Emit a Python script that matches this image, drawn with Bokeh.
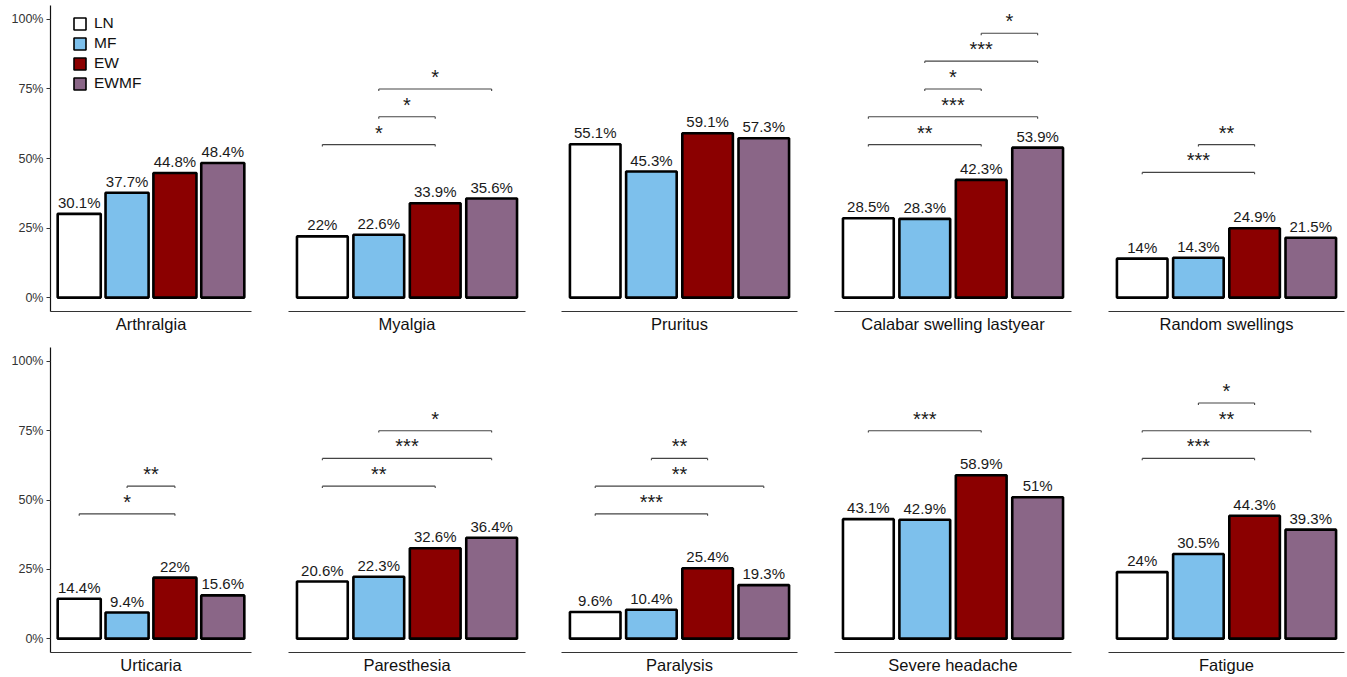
from bokeh.plotting import figure
from bokeh.layouts import row, column
from bokeh.models import (Range1d, ColumnDataSource, FixedTicker, PrintfTickFormatter,
                          Legend, LegendItem)
from bokeh.core.properties import value
from bokeh.embed import file_html
from bokeh.resources import INLINE

# ---------------- data ----------------
groups = ["LN", "MF", "EW", "EWMF"]
symptoms = ["Arthralgia", "Myalgia", "Pruritus", "Calabar swelling lastyear", "Random swellings",
            "Urticaria", "Paresthesia", "Paralysis", "Severe headache", "Fatigue"]
ln_vals = [30.1, 22, 55.1, 28.5, 14, 14.4, 20.6, 9.6, 43.1, 24]
mf_vals = [37.7, 22.6, 45.3, 28.3, 14.3, 9.4, 22.3, 10.4, 42.9, 30.5]
ew_vals = [44.8, 33.9, 59.1, 42.3, 24.9, 22, 32.6, 25.4, 58.9, 44.3]
ewmf_vals = [48.4, 35.6, 57.3, 53.9, 21.5, 15.6, 36.4, 19.3, 51, 39.3]

y_ticks = [0, 25, 50, 75, 100]

# significance brackets
sig_symptom = (["Myalgia"] * 3 + ["Calabar swelling lastyear"] * 5 + ["Random swellings"] * 2 +
               ["Urticaria"] * 2 + ["Paresthesia"] * 3 + ["Paralysis"] * 3 +
               ["Severe headache"] + ["Fatigue"] * 3)
sig_from = ["LN", "MF", "MF",
            "LN", "LN", "MF", "MF", "EW",
            "LN", "MF",
            "LN", "MF",
            "LN", "LN", "MF",
            "LN", "LN", "MF",
            "LN",
            "LN", "LN", "MF"]
sig_to = ["EW", "EW", "EWMF",
          "EW", "EWMF", "EW", "EWMF", "EWMF",
          "EW", "EW",
          "EW", "EW",
          "EW", "EWMF", "EWMF",
          "EW", "EWMF", "EW",
          "EW",
          "EW", "EWMF", "EW"]
sig_height = [55, 65, 75,
              55, 65, 75, 85, 95,
              45, 55,
              45, 55,
              55, 65, 75,
              45, 55, 65,
              75,
              65, 75, 85]
sig_label = ["*", "*", "*",
             "**", "***", "*", "***", "*",
             "***", "**",
             "*", "**",
             "**", "***", "*",
             "***", "**", "**",
             "***",
             "***", "**", "*"]

# ---------------- style ----------------
colors = ["#FFFFFF", "#7DC0EC", "#8B0000", "#8A6687"]
FONT = value("Liberation Sans")
gx = {g: i + 1 for i, g in enumerate(groups)}

col_widths = [270, 273, 273, 274, 256]
col_left = [50, 18, 18, 18, 18]
col_right = [19, 18, 19, 19, 2]
row_heights = [342, 334]
row_top = [5, 5]
row_bottom = [31, 23]


def make_panel(k):
    r, c = divmod(k, 5)
    name = symptoms[k]
    vals = [ln_vals[k], mf_vals[k], ew_vals[k], ewmf_vals[k]]
    p = figure(width=col_widths[c], height=row_heights[r],
               x_range=Range1d(0.4, 4.6), y_range=Range1d(-5, 105),
               toolbar_location=None, output_backend="svg",
               min_border_left=col_left[c], min_border_right=col_right[c],
               min_border_top=row_top[r], min_border_bottom=row_bottom[r])
    p.outline_line_color = None
    p.grid.visible = False
    p.background_fill_color = "white"
    p.border_fill_color = "white"

    src = ColumnDataSource(dict(
        x=[gx[g] for g in groups], top=vals, color=colors,
        label=[f"{v:g}%" for v in vals]))
    # thin-outlined key glyphs (zero height, hidden under the bars' bottom edge)
    keys = p.vbar(x="x", top=0, bottom=0, width=0.9, fill_color="color",
                  line_color="black", line_width=1.6, source=src)
    p.vbar(x="x", top="top", bottom=0, width=0.9, fill_color="color",
           line_color="black", line_width=2.6, source=src)
    p.text(x="x", y="top", text="label", source=src, text_align="center",
           text_baseline="bottom", y_offset=-3, text_font=FONT,
           text_font_size="15px", text_color="#1a1a1a")

    # brackets
    x0, x1, yy, lab, xm = [], [], [], [], []
    for s, a, b, h, l in zip(sig_symptom, sig_from, sig_to, sig_height, sig_label):
        if s == name:
            x0.append(gx[a]); x1.append(gx[b]); yy.append(h); lab.append(l)
            xm.append((gx[a] + gx[b]) / 2)
    if x0:
        bs = ColumnDataSource(dict(x0=x0, x1=x1, y=yy, yt=[v - 0.7 for v in yy],
                                   xm=xm, lab=lab))
        p.segment(x0="x0", y0="y", x1="x1", y1="y", source=bs,
                  line_color="#444444", line_width=1.1)
        p.segment(x0="x0", y0="y", x1="x0", y1="yt", source=bs,
                  line_color="#444444", line_width=1.1)
        p.segment(x0="x1", y0="y", x1="x1", y1="yt", source=bs,
                  line_color="#444444", line_width=1.1)
        p.text(x="xm", y="y", text="lab", source=bs, text_align="center",
               text_baseline="bottom", y_offset=-1, text_font=FONT,
               text_font_size="20px", text_color="#1a1a1a")

    # x axis: line + facet title
    xa = p.xaxis[0]
    xa.ticker = FixedTicker(ticks=[])
    xa.major_tick_out = 0
    xa.major_tick_in = 0
    xa.minor_tick_out = 0
    xa.minor_tick_in = 0
    xa.major_label_standoff = 0
    xa.axis_line_color = "#333333"
    xa.axis_line_width = 1.2
    xa.axis_label = name
    xa.axis_label_standoff = 3
    xa.axis_label_text_font = "Liberation Sans"
    xa.axis_label_text_font_style = "normal"
    xa.axis_label_text_font_size = "16.5px"
    xa.axis_label_text_color = "#111111"

    ya = p.yaxis[0]
    if c == 0:
        ya.ticker = FixedTicker(ticks=y_ticks)
        ya.formatter = PrintfTickFormatter(format="%d%%")
        ya.minor_tick_out = 0
        ya.minor_tick_in = 0
        ya.major_tick_in = 0
        ya.major_tick_out = 4
        ya.major_label_standoff = 3
        ya.axis_line_color = "#111111"
        ya.axis_line_width = 1.2
        ya.major_tick_line_color = "#333333"
        ya.major_label_text_font = "Liberation Sans"
        ya.major_label_text_font_size = "12.5px"
        ya.major_label_text_color = "#333333"
    else:
        ya.visible = False

    if k == 0:
        items = [LegendItem(label=g, renderers=[keys], index=i) for i, g in enumerate(groups)]
        leg = Legend(items=items, location=(22, 219), border_line_color=None,
                     background_fill_alpha=0, padding=0, margin=0, spacing=2,
                     glyph_width=15, glyph_height=15, label_height=15,
                     label_standoff=7, label_text_font="Liberation Sans",
                     label_text_font_size="15.5px", label_text_color="#111111")
        p.add_layout(leg)
    return p


panels = [make_panel(k) for k in range(10)]
layout = column(row(*panels[:5]), row(*panels[5:]))

open("out.html", "w").write(file_html(layout, INLINE))
